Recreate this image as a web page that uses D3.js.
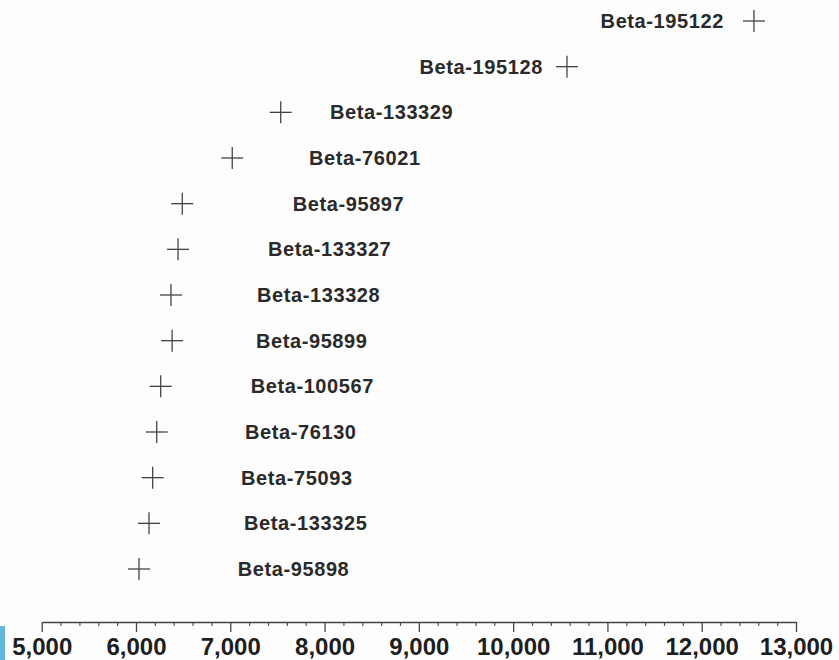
<!DOCTYPE html>
<html>
<head>
<meta charset="utf-8">
<script src="https://cdn.jsdelivr.net/npm/d3@7"></script>
<style>
  html, body { margin: 0; padding: 0; background: #fdfdfd; }
  svg { display: block; }
</style>
</head>
<body>
<svg id="chart" width="839" height="660"></svg>
<script>
// Sample labels, top to bottom
const samples = [
  "Beta-195122", "Beta-195128", "Beta-133329", "Beta-76021", "Beta-95897",
  "Beta-133327", "Beta-133328", "Beta-95899", "Beta-100567", "Beta-76130",
  "Beta-75093", "Beta-133325", "Beta-95898"
];
// Age values (axis units)
const ages = [12554, 10571, 7535, 7021, 6491, 6446, 6371, 6383, 6262, 6220, 6177, 6138, 6032];
// Axis tick values
const majorTicks = [5000, 6000, 7000, 8000, 9000, 10000, 11000, 12000, 13000];
const minorStep = 200;

// Where each label sits along the axis, and which side of the marker it is on
const labelAt = [12236, 10316, 8057, 7835, 7662, 7400, 7283, 7272, 7216, 7156, 7114, 7146, 7079];
const labelSide = ["end", "end", "start", "start", "start", "start", "start", "start", "start", "start", "start", "start", "start"];

const svg = d3.select("#chart");

const x = d3.scaleLinear().domain([5000, 13000]).range([41.7, 796]);
const y = d3.scalePoint().domain(samples).range([21, 569]);

const axisY = 622;

// Light blue edge mark at the bottom left
svg.append("rect")
  .attr("x", 0).attr("y", 626).attr("width", 5).attr("height", 34)
  .attr("fill", "#62b6dc");

// Minor ticks
const minor = d3.range(5000, 13000 + 1, minorStep).filter(v => !majorTicks.includes(v));
const axisG = svg.append("g").attr("transform", `translate(0,${axisY})`);
axisG.append("g")
  .call(d3.axisBottom(x).tickValues(minor).tickSize(4).tickSizeOuter(0).tickFormat(""))
  .call(g => g.select(".domain").remove())
  .call(g => g.selectAll("line").attr("stroke", "#555").attr("stroke-width", 1.2));

// Major ticks with labels
axisG.append("g")
  .call(d3.axisBottom(x).tickValues(majorTicks).tickSize(10).tickSizeOuter(0)
    .tickFormat(d3.format(",")))
  .call(g => g.select(".domain").attr("stroke", "#444").attr("stroke-width", 1.3))
  .call(g => g.selectAll("line").attr("stroke", "#444").attr("stroke-width", 1.3))
  .call(g => g.selectAll("text")
    .attr("y", 33).attr("dy", null)
    .attr("fill", "#1e1e1e")
    .style("font-family", "'Liberation Sans', Arial, sans-serif")
    .style("font-weight", "bold")
    .style("font-size", "24px"));

// Cross markers
const half = 11;
const marks = svg.append("g").attr("stroke", "#444").attr("stroke-width", 1.3).attr("fill", "none");
samples.forEach((s, i) => {
  const cx = x(ages[i]), cy = y(s);
  marks.append("line").attr("x1", cx - half).attr("x2", cx + half).attr("y1", cy).attr("y2", cy);
  marks.append("line").attr("x1", cx).attr("x2", cx).attr("y1", cy - half).attr("y2", cy + half);
});

// Sample labels
svg.append("g")
  .selectAll("text")
  .data(samples)
  .join("text")
  .attr("x", (d, i) => x(labelAt[i]))
  .attr("y", d => y(d) + 7)
  .attr("text-anchor", (d, i) => labelSide[i])
  .attr("fill", "#2a2a2a")
  .style("font-family", "'Liberation Sans', Arial, sans-serif")
  .style("font-weight", "bold")
  .style("font-size", "20px")
  .style("letter-spacing", "0.6px")
  .text(d => d);
</script>
</body>
</html>
